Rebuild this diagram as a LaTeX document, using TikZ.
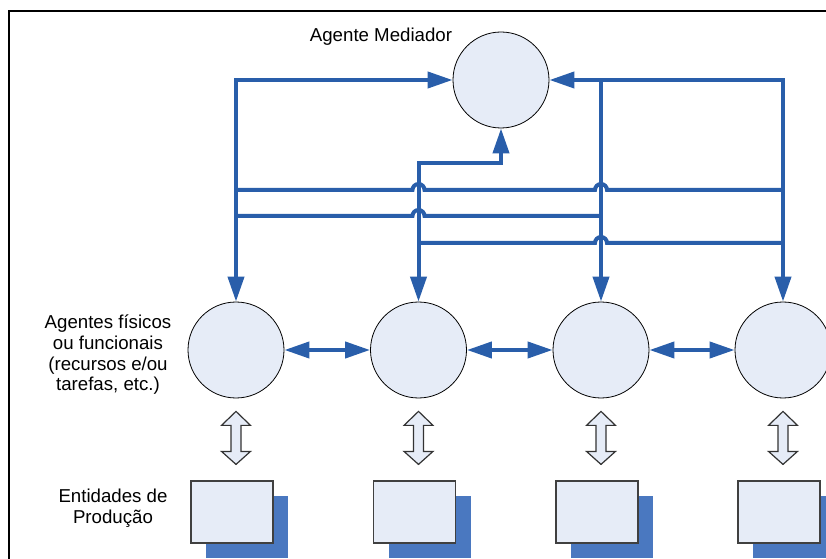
\documentclass[tikz,border=0pt]{standalone}
\usepackage{fontspec}
\setmainfont{Liberation Sans}
\usetikzlibrary{arrows.meta,positioning,shadows}

\definecolor{busblue}{RGB}{41,94,170}
\definecolor{agentfill}{RGB}{230,236,247}
\definecolor{prodshadow}{RGB}{74,120,192}

\tikzset{
  agent/.style={circle, draw=black, line width=0.6pt, fill=agentfill, minimum size=72pt, inner sep=0pt},
  entity/.style={rectangle, draw=black!75, line width=1pt, fill=agentfill, minimum width=61.5pt, minimum height=46.5pt, inner sep=0pt,
    general shadow={fill=prodshadow, shadow xshift=11.25pt, shadow yshift=-11.25pt}},
  bus/.style={draw=busblue, line width=3pt, >={Triangle[length=18.75pt,width=12pt]}},
  updown/.style={draw=black!80, fill=agentfill, line width=0.9pt, line join=miter},
  caption/.style={font=\fontsize{14}{15.5}\selectfont, align=center, inner sep=0pt}
}

\begin{document}
\begin{tikzpicture}[x=0.75pt,y=0.75pt]
        \useasboundingbox (0,0) rectangle (826,558);
        \clip (0,0) rectangle (826,558);

        % frame
        \draw[line width=2pt] (9,-5) -- (9,547) -- (840,547);

        % agents
        \node[agent] (med) at (501,478) {};
        \node[agent] (a1) at (236,208) {};
        \node[agent] (a2) at (418.5,208) {};
        \node[agent] (a3) at (601,208) {};
        \node[agent] (a4) at (783,208) {};

        \node[caption] (medlabel) at (381,521) {Agente Mediador};
        \node[caption] (agentlabel) at (108,203) {Agentes físicos\\ou funcionais\\(recursos e/ou\\tarefas, etc.)};
        \node[caption] (prodlabel) at (113,50) {Entidades de\\Produção};

        % links to the mediator
        \draw[bus,<->] (med.west) -| (a1.north);
        \draw[bus,<->] (med.south) -- ++(0,-35) -| (a2.north);
        \draw[bus,<->] (med.east) -| (a4.north);
        \draw[bus,->] (med.east -| a3.north) -- (a3.north);

        % bus lines with hops
        \coordinate (bus1) at (0,368);
        \coordinate (bus2) at (0,342);
        \coordinate (bus3) at (0,315);
        \draw[bus] (a1 |- bus1) -- ++(176.5,0) arc[start angle=180,end angle=0,radius=6]
          -- ++(170.5,0) arc[start angle=180,end angle=0,radius=6] -- (a4 |- bus1);
        \draw[bus] (a1 |- bus2) -- ++(176.5,0) arc[start angle=180,end angle=0,radius=6] -- (a3 |- bus2);
        \draw[bus] (a2 |- bus3) -- ++(176.5,0) arc[start angle=180,end angle=0,radius=6] -- (a4 |- bus3);

        % neighbours
        \foreach \i/\j in {1/2,2/3,3/4}
          \draw[bus,<->] (a\i) -- (a\j);

        % production entities
        \foreach \i in {1,...,4} {
          \node[entity, below=61.5pt of a\i, xshift=-3pt] (p\i) {};
          \draw[updown] ([yshift=-9.75pt]a\i.south) -- ++(14.5,-14) -- ++(-9.5,0) -- ++(0,-26)
            -- ++(9.5,0) -- ++(-14.5,-13) -- ++(-14.5,13) -- ++(9.5,0) -- ++(0,26) -- ++(-9.5,0) -- cycle;
        }
      \end{tikzpicture}
\end{document}
